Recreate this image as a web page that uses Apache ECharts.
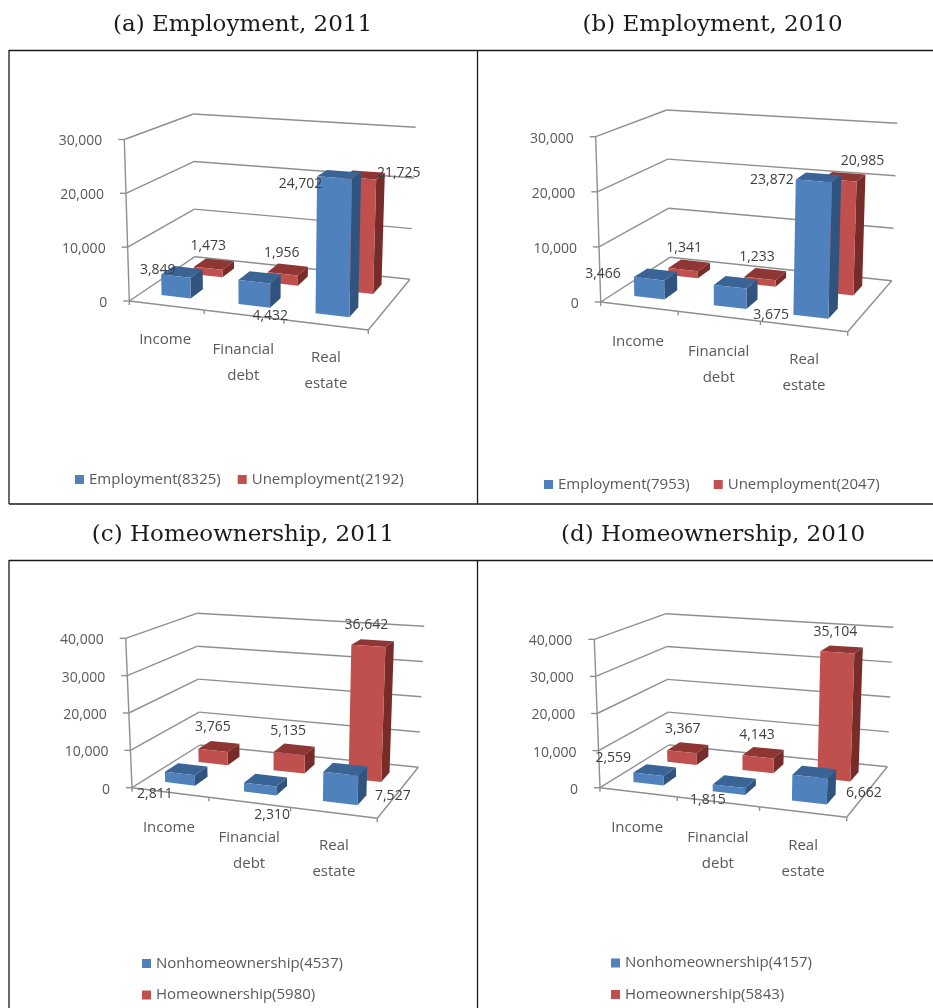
<!DOCTYPE html>
<html>
<head>
<meta charset="utf-8">
<title>Assets by employment and homeownership</title>
<style>html,body{margin:0;padding:0;background:#fff}#chart{width:933px;height:1008px}</style>
<script src="https://cdn.jsdelivr.net/npm/echarts@6/dist/echarts.min.js"></script>
</head>
<body>
<div id="chart"></div>
<script>
const categories = ['Income', 'Financial\ndebt', 'Real\nestate'];

const employment2011 = [3849, 4432, 24702];
const unemployment2011 = [1473, 1956, 21725];
const employment2010 = [3466, 3675, 23872];
const unemployment2010 = [1341, 1233, 20985];
const nonhomeownership2011 = [2811, 2310, 7527];
const homeownership2011 = [3765, 5135, 36642];
const nonhomeownership2010 = [2559, 1815, 6662];
const homeownership2010 = [3367, 4143, 35104];

const ticks30k = [0, 10000, 20000, 30000];
const ticks40k = [0, 10000, 20000, 30000, 40000];

const FONT = '"Open Sans", sans-serif';
const AXIS_TEXT = '#595959';
const LINE = '#8f8f8f';

// Box colours: front, side and top faces.
const BLUE = { front: '#4f81bd', side: '#31547f', top: '#3a6496' };
const RED = { front: '#c0504d', side: '#772c2a', top: '#8e3634' };

// Rows on the floor of the 3D box: depth range, half width (growing along the floor), sideways shift.
const FRONT_ROW = { w0: 0.19, w1: 0.39, half: 0.06, grow: 0.015, shift: -0.02, colors: BLUE, z2: 2 };
const BACK_ROW = { w0: 0.66, w1: 0.85, half: 0.062, grow: 0.012, shift: -0.007, colors: RED, z2: 1 };

// Panel geometry: corners of the chart box, legend placement, data-label offsets.
const panels = [
  {
    title: '(a) Employment, 2011', titleX: 242.5, titleY: 14,
    ticks: ticks30k,
    front: employment2011, back: unemployment2011,
    frontName: 'Employment(8325)', backName: 'Unemployment(2192)',
    box: { fl0: [129.3, 301], flt: [124.3, 139.5], fr0: [368.3, 330], frt: [372, 157],
           bl0: [195, 256.7], blt: [193.3, 114], br0: [410, 279.3], brt: [415.7, 127.3] },
    legend: { left: 75, top: 472, orient: 'horizontal', gap: 17 },
    labelMargin: 8.5,
    frontOffsets: [[-18, -6], [16, 34], [-34, 6]],
    backOffsets: [[0, -22], [-1, -21], [39, -5]]
  },
  {
    title: '(b) Employment, 2010', titleX: 712.5, titleY: 14,
    ticks: ticks30k,
    front: employment2010, back: unemployment2010,
    frontName: 'Employment(7953)', backName: 'Unemployment(2047)',
    box: { fl0: [600.7, 302], flt: [595.7, 136.7], fr0: [847.7, 331.7], frt: [853.5, 155.5],
           bl0: [670, 257.3], blt: [666.7, 110], br0: [891.7, 280.7], brt: [897.3, 123.3] },
    legend: { left: 544, top: 477, orient: 'horizontal', gap: 24 },
    labelMargin: 9.5,
    frontOffsets: [[-46, -5], [41, 28], [-42, -1]],
    backOffsets: [[1, -22], [-3, -22], [23, -19]]
  },
  {
    title: '(c) Homeownership, 2011', titleX: 243, titleY: 523.5,
    ticks: ticks40k,
    front: nonhomeownership2011, back: homeownership2011,
    frontName: 'Nonhomeownership(4537)', backName: 'Homeownership(5980)',
    box: { fl0: [132, 787.7], flt: [125.7, 638.3], fr0: [377.3, 818.3], frt: [382, 655],
           bl0: [200, 745], blt: [196.7, 613.3], br0: [418.3, 767.3], brt: [424.3, 626.3] },
    legend: { left: 142, top: 956, orient: 'vertical', gap: 16.5 },
    labelMargin: 10,
    frontOffsets: [[-25, 21], [12, 30], [52, 22]],
    backOffsets: [[0, -23], [-1, -23], [-2, -21]]
  },
  {
    title: '(d) Homeownership, 2010', titleX: 713, titleY: 523.5,
    ticks: ticks40k,
    front: nonhomeownership2010, back: homeownership2010,
    frontName: 'Nonhomeownership(4157)', backName: 'Homeownership(5843)',
    box: { fl0: [600, 787.7], flt: [594.3, 639.3], fr0: [846.7, 817.3], frt: [851.5, 656.7],
           bl0: [669, 745], blt: [666, 613.7], br0: [887.3, 766.7], brt: [893.3, 627.3] },
    legend: { left: 611, top: 955.5, orient: 'vertical', gap: 16.5 },
    labelMargin: 10,
    frontOffsets: [[-35, -16], [-21, 14], [54, 16]],
    backOffsets: [[1, -23], [-1, -22], [-2, -20]]
  }
];

const lerp = (a, b, t) => [a[0] + (b[0] - a[0]) * t, a[1] + (b[1] - a[1]) * t];

// Maps box coordinates (u along the categories, v up the value axis, w into depth) to pixels.
function project(box, u, v, w) {
  const front = lerp(lerp(box.fl0, box.fr0, u), lerp(box.flt, box.frt, u), v);
  const back = lerp(lerp(box.bl0, box.br0, u), lerp(box.blt, box.brt, u), v);
  return lerp(front, back, w);
}

const polygon = (points, fill, z2) => ({
  type: 'polygon', shape: { points }, style: { fill, stroke: null }, z2, silent: true
});
const segment = (a, b) => ({
  type: 'line', shape: { x1: a[0], y1: a[1], x2: b[0], y2: b[1] },
  style: { stroke: LINE, lineWidth: 1.4, fill: null }, z2: 0, silent: true
});

// Draws the walls, floor and tick marks, one gridline per axis tick.
function frameRenderer(box) {
  return function (params, api) {
    const sys = params.coordSys;
    const v = (sys.y + sys.height - api.coord([0, api.value(0)])[1]) / sys.height;
    const p = project(box, 0, v, 0);
    const children = [
      segment(p, project(box, 0, v, 1)),
      segment(project(box, 0, v, 1), project(box, 1, v, 1)),
      segment([p[0] - 6, p[1]], p)
    ];
    if (params.dataIndex === 0) {
      children.push(segment(project(box, 0, 0, 0), project(box, 0, 1, 0)));
      children.push(segment(project(box, 0, 0, 0), project(box, 1, 0, 0)));
      children.push(segment(project(box, 1, 0, 0), project(box, 1, 0, 1)));
      for (let k = 0; k <= 3; k++) {
        const q = project(box, k === 0 || k === 3 ? k / 3 : k / 3 - 0.02, 0, 0);
        children.push(segment(q, [q[0], q[1] + 4]));
      }
    }
    return { type: 'group', children };
  };
}

// Draws one 3D bar per category, with its value as text on top of everything.
function barRenderer(box, row, offsets) {
  return function (params, api) {
    const sys = params.coordSys;
    const i = api.value(0);
    const value = api.value(1);
    const base = api.coord([i, 0]);
    const tip = api.coord([i, value]);
    const uc = (base[0] - sys.x) / sys.width + row.shift;
    const half = row.half + row.grow * uc;
    const uL = uc - half;
    const uR = uc + half;
    const v = (base[1] - tip[1]) / sys.height;
    const { w0, w1, colors, z2 } = row;
    const P = (u, vv, w) => project(box, u, vv, w);
    const anchor = P(uc, v, w0);
    const off = offsets[params.dataIndex];
    return {
      type: 'group',
      children: [
        polygon([P(uR, 0, w0), P(uR, 0, w1), P(uR, v, w1), P(uR, v, w0)], colors.side, z2),
        polygon([P(uL, v, w0), P(uR, v, w0), P(uR, v, w1), P(uL, v, w1)], colors.top, z2),
        polygon([P(uL, 0, w0), P(uR, 0, w0), P(uR, v, w0), P(uL, v, w0)], colors.front, z2),
        {
          type: 'text', x: anchor[0] + off[0], y: anchor[1] + off[1], z2: 10, silent: true,
          style: {
            text: value.toLocaleString('en-US'), fill: '#404040',
            font: '14px ' + FONT, align: 'center', verticalAlign: 'middle'
          }
        }
      ]
    };
  };
}

// Category labels step down along the slanted floor edge.
const categoryStep = [[8, 17], [11, 27], [5, 35]];

const option = {
  backgroundColor: '#fff',
  animation: false,
  title: [],
  legend: [],
  grid: [],
  xAxis: [],
  yAxis: [],
  series: [],
  graphic: [
    [[9, 50.5], [933, 50.5]], [[9, 504], [933, 504]], [[9, 50], [9, 504]], [[477.5, 50], [477.5, 504]],
    [[9, 560.5], [933, 560.5]], [[9, 560], [9, 1008]], [[477.5, 560], [477.5, 1008]]
  ].map(([a, b]) => ({
    type: 'line', shape: { x1: a[0], y1: a[1], x2: b[0], y2: b[1] },
    style: { stroke: '#1a1a1a', lineWidth: 1.3 }, silent: true
  }))
};

panels.forEach((panel, idx) => {
  const box = panel.box;
  const max = panel.ticks[panel.ticks.length - 1];
  const lean = box.fl0[0] - box.flt[0];
  const rich = {};
  panel.ticks.forEach((t) => {
    rich['t' + t] = { padding: [4, lean * t / max, 0, 0], color: AXIS_TEXT, fontSize: 14, fontFamily: FONT };
  });

  option.title.push({
    text: panel.title, left: panel.titleX, top: panel.titleY, textAlign: 'center', padding: 0,
    textStyle: { fontFamily: '"DejaVu Serif", serif', fontWeight: 'normal', fontSize: 23, color: '#1a1a1a' }
  });
  option.legend.push({
    data: [panel.frontName, panel.backName],
    left: panel.legend.left, top: panel.legend.top, orient: panel.legend.orient,
    padding: 0, itemWidth: 9, itemHeight: 9, itemGap: panel.legend.gap,
    icon: 'rect', selectedMode: false,
    textStyle: { color: AXIS_TEXT, fontSize: 15, fontFamily: FONT }
  });
  option.grid.push({
    left: box.fl0[0], top: box.flt[1],
    width: box.fr0[0] - box.fl0[0], height: box.fl0[1] - box.flt[1]
  });
  option.xAxis.push({
    type: 'category', gridIndex: idx, boundaryGap: true,
    data: categories.map((name, c) => ({
      value: name,
      textStyle: { padding: [categoryStep[c][1], categoryStep[c][0], 0, 0] }
    })),
    axisLine: { show: false }, axisTick: { show: false }, splitLine: { show: false },
    axisLabel: { interval: 0, margin: panel.labelMargin, color: AXIS_TEXT, fontSize: 15, fontFamily: FONT, lineHeight: 26 }
  });
  option.yAxis.push({
    type: 'value', gridIndex: idx, min: 0, max, interval: 10000,
    axisLine: { show: false }, axisTick: { show: false }, splitLine: { show: false },
    axisLabel: {
      margin: 22, rich,
      formatter: (val) => '{t' + val + '|' + val.toLocaleString('en-US') + '}'
    }
  });

  const base = { type: 'custom', xAxisIndex: idx, yAxisIndex: idx, clip: false, silent: true, z: 2 };
  option.series.push(Object.assign({}, base, {
    name: 'frame' + idx, renderItem: frameRenderer(box),
    encode: { y: 0 }, data: panel.ticks.map((t) => [t])
  }));
  option.series.push(Object.assign({}, base, {
    name: panel.backName, itemStyle: { color: RED.front },
    renderItem: barRenderer(box, BACK_ROW, panel.backOffsets),
    encode: { x: 0, y: 1 }, data: panel.back.map((val, c) => [c, val])
  }));
  option.series.push(Object.assign({}, base, {
    name: panel.frontName, itemStyle: { color: BLUE.front },
    renderItem: barRenderer(box, FRONT_ROW, panel.frontOffsets),
    encode: { x: 0, y: 1 }, data: panel.front.map((val, c) => [c, val])
  }));
});

echarts.init(document.getElementById('chart'), null, { renderer: 'canvas' }).setOption(option);
</script>
</body>
</html>
